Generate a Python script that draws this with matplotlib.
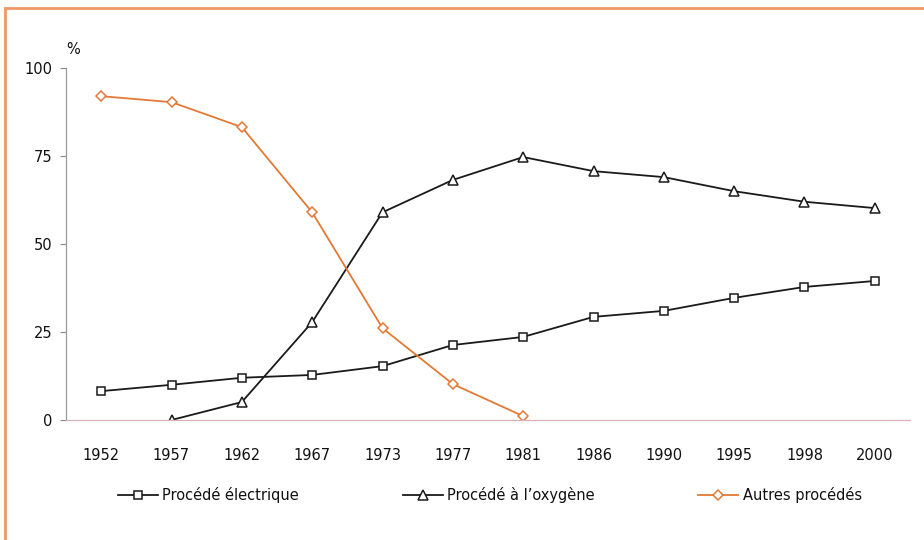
import numpy as np
import matplotlib.pyplot as plt
from matplotlib.lines import Line2D

years = ['1952', '1957', '1962', '1967', '1973', '1977', '1981',
         '1986', '1990', '1995', '1998', '2000']
electrique = [8.2, 10.0, 12.0, 12.8, 15.3, 21.3, 23.6, 29.3, 31.0, 34.7, 37.8, 39.5]
oxygene = [np.nan, 0.0, 5.1, 27.8, 59.0, 68.2, 74.7, 70.7, 69.0, 65.0, 62.0, 60.2]
autres = [92.0, 90.3, 83.2, 59.0, 26.1, 10.2, 1.1,
          np.nan, np.nan, np.nan, np.nan, np.nan]
y_ticks = [0, 25, 50, 75, 100]

orange = '#E27A35'
txt = '#111111'
plt.rcParams['font.family'] = 'DejaVu Sans'

fig = plt.figure(figsize=(9.24, 5.4), dpi=100)
ax = fig.add_axes([66 / 924, 1 - 420 / 540, (910 - 66) / 924, (420 - 68) / 540])

x = np.arange(len(years))
ax.plot(x, electrique, color='#1a1a1a', lw=1.3, marker='s', ms=6,
        mfc='white', mec='#1a1a1a', mew=1.1, label='Procédé électrique')
ax.plot(x, oxygene, color='#1a1a1a', lw=1.3, marker='^', ms=6.5,
        mfc='white', mec='#1a1a1a', mew=1.1, label='Procédé à l\u2019oxygène')
ax.plot(x, autres, color=orange, lw=1.3, marker='D', ms=5,
        mfc='white', mec=orange, mew=1.1, label='Autres procédés')

ax.set_xlim(-0.5, len(years) - 0.5)
ax.set_ylim(0, 100)
ax.set_xticks(x)
ax.set_xticklabels(years, fontsize=10.5, color=txt)
ax.set_yticks(y_ticks)
ax.set_yticklabels([str(v) for v in y_ticks], fontsize=10.5, color=txt)
ax.tick_params(axis='x', length=0, pad=20)
ax.tick_params(axis='y', length=4, width=0.8, color='#888888', pad=6)

for side in ['top', 'right']:
    ax.spines[side].set_visible(False)
ax.spines['left'].set_color('#999999')
ax.spines['left'].set_linewidth(0.9)
ax.spines['bottom'].set_color('#d9b0b8')
ax.spines['bottom'].set_linewidth(0.9)

fig.text(73 / 924, 1 - 50 / 540, '%', fontsize=10.5, ha='center', va='center', color=txt)

leg = fig.legend(loc='center left', bbox_to_anchor=(112 / 924, 1 - 495 / 540), ncol=3,
                 frameon=False, fontsize=10.5, handlelength=2.75, handletextpad=0.3,
                 columnspacing=7.1, borderaxespad=0)
for t in leg.get_texts():
    t.set_color(txt)

# cadre orange
fig.add_artist(Line2D([5 / 924, 5 / 924], [0, 1 - 8 / 540], transform=fig.transFigure,
                      color='#EE9A66', lw=2))
fig.add_artist(Line2D([5 / 924, 1], [1 - 8 / 540, 1 - 8 / 540], transform=fig.transFigure,
                      color='#EE9A66', lw=2))

fig.savefig('out.png', dpi=100)
